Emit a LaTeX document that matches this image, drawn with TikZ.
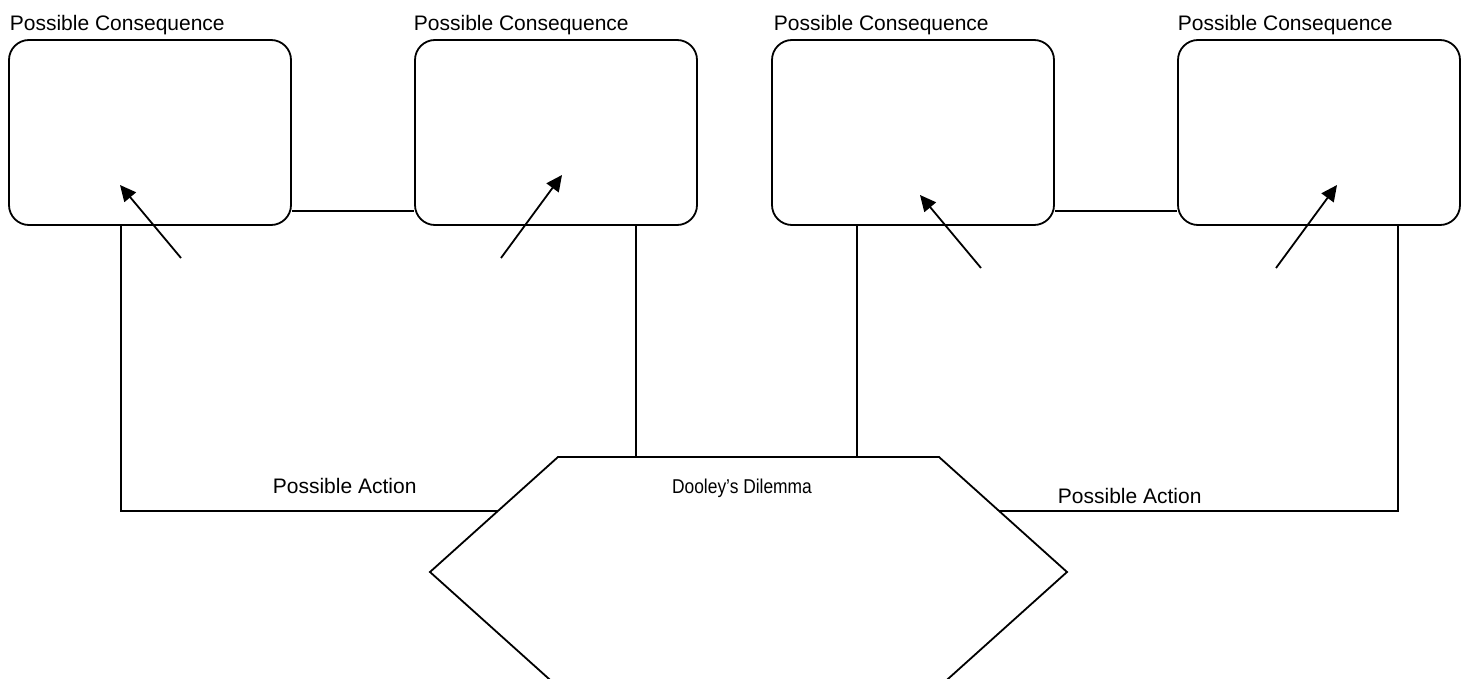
\documentclass[tikz,border=0pt]{standalone}
\usepackage{fontspec}
\setmainfont{Liberation Sans}
\newfontfamily\narrowfont[FakeStretch=0.87]{Liberation Sans}
\usetikzlibrary{arrows.meta,calc}
\begin{document}
\begin{tikzpicture}[x=1pt,y=-1pt,
  line width=1.8pt,
  consbox/.style={draw,rounded corners=20pt,minimum width=282pt,minimum height=185pt,inner sep=0pt},
  lbl/.style={inner sep=0pt,anchor=base west,font=\fontsize{21}{25}\selectfont},
  arr/.style={-{Triangle[length=16pt,width=15pt]},line width=1.8pt}]
\useasboundingbox (0,0) rectangle (1464,679);
\clip (0,0) rectangle (1464,679);
% boxes
\node[consbox] (b1) at (150,132.5) {};
\node[consbox] (b2) at (556,132.5) {};
\node[consbox] (b3) at (913,132.5) {};
\node[consbox] (b4) at (1319,132.5) {};
% labels
\node[lbl] (c1) at (9,31) {Possible Consequence};
\node[lbl] (c2) at (413,31) {Possible Consequence};
\node[lbl] (c3) at (773,31) {Possible Consequence};
\node[lbl] (c4) at (1177,31) {Possible Consequence};
\node[lbl] (a1) at (272,493) {Possible Action};
\node[lbl] (a2) at (1057,503) {Possible Action};
% hexagon
\coordinate (hTL) at (558,457);
\coordinate (hTR) at (939,457);
\coordinate (hR) at (1067,572);
\coordinate (hBR) at (939,687);
\coordinate (hBL) at (558,687);
\coordinate (hL) at (430,572);
\draw[line join=miter] (hTL) -- (hTR) -- (hR) -- (hBR) -- (hBL) -- (hL) -- cycle;
\node[inner sep=0pt,anchor=base,font=\narrowfont\fontsize{20}{24}\selectfont] (dd) at (742,493) {Dooley’s Dilemma};
% connectors between boxes
\draw (b1.east |- 0,211) -- (b2.west |- 0,211);
\draw (b3.east |- 0,211) -- (b4.west |- 0,211);
% vertical and horizontal connectors
\coordinate (v1) at (121,511);
\coordinate (v4) at (1398,511);
\coordinate (hlp) at ($(hL)!0.53!(hTL)$);
\coordinate (hrp) at ($(hR)!0.53!(hTR)$);
\draw (v1 |- b1.south) -- (v1) -- (hlp);
\draw (v4 |- b4.south) -- (v4) -- (hrp);
\coordinate (v2) at (636,457);
\coordinate (v3) at (857,457);
\draw (v2 |- b2.south) -- (v2);
\draw (v3 |- b3.south) -- (v3);
% arrows
\coordinate (t1) at (181,258); \coordinate (p1) at (120,185);
\coordinate (t2) at (501,258); \coordinate (p2) at (562,175);
\coordinate (t3) at (981,268); \coordinate (p3) at (920,195);
\coordinate (t4) at (1276,268); \coordinate (p4) at (1337,185);
\draw[arr] (t1) -- (p1);
\draw[arr] (t2) -- (p2);
\draw[arr] (t3) -- (p3);
\draw[arr] (t4) -- (p4);
\end{tikzpicture}
\end{document}
